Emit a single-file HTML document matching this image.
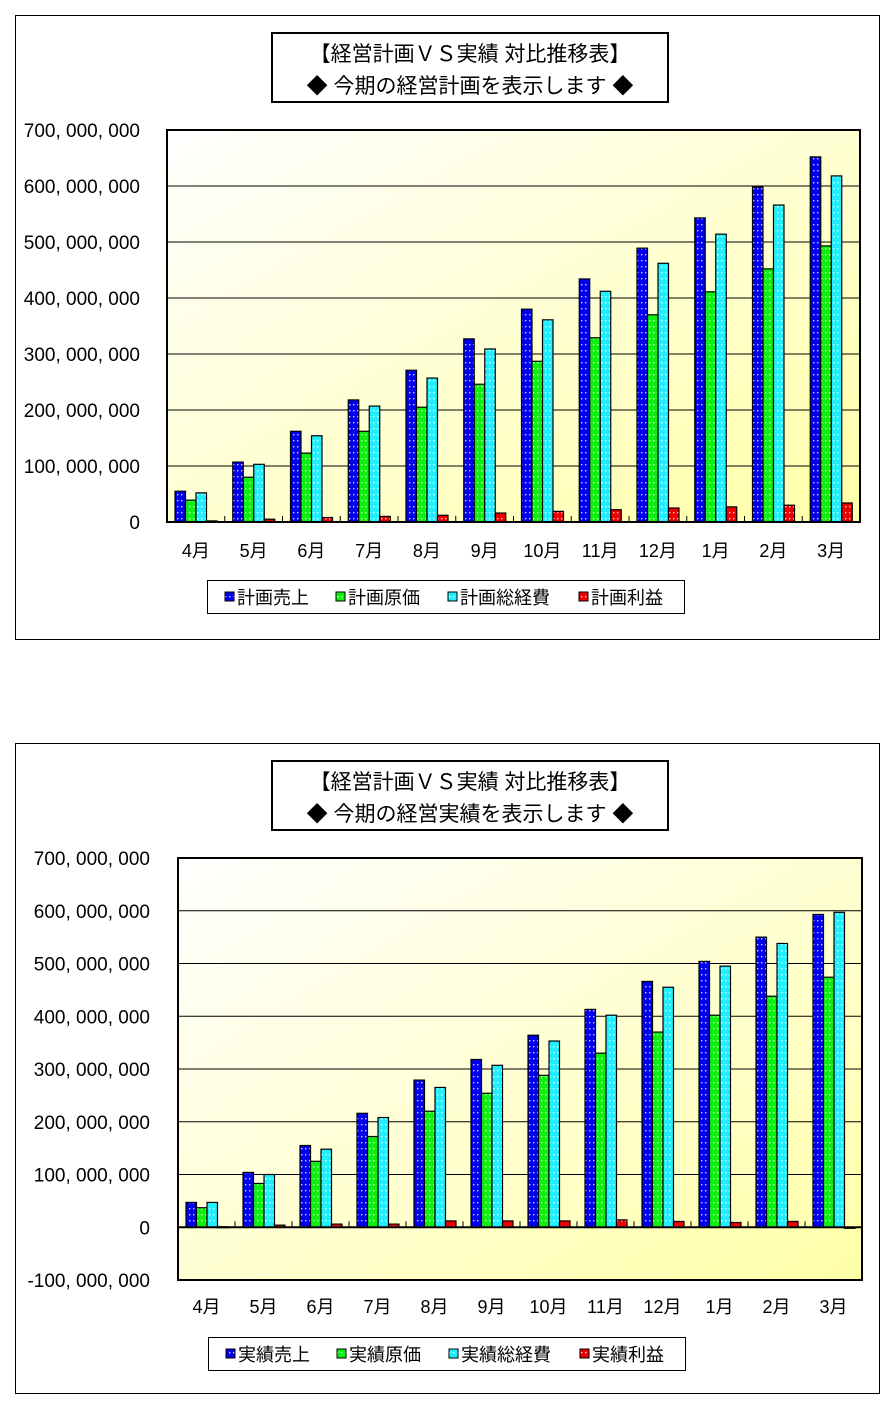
<!DOCTYPE html>
<html><head><meta charset="utf-8"><style>
body{margin:0;background:#fff;width:894px;height:1415px;overflow:hidden}
svg{display:block}
text{font-family:"Liberation Sans","Noto Sans CJK JP",sans-serif;fill:#000}
</style></head><body>
<svg id="s" width="894" height="1415" viewBox="0 0 894 1415">
<defs>
<linearGradient id="bg" x1="0" y1="0" x2="1" y2="1"><stop offset="0" stop-color="#ffffff"/><stop offset="1" stop-color="#ffffa8"/></linearGradient>
<pattern id="p0" width="4" height="6" patternUnits="userSpaceOnUse"><rect width="4" height="6" fill="#0000ee"/><rect x="1" y="2" width="1.4" height="1.4" fill="#ccccff"/></pattern>
<pattern id="p1" width="4" height="6" patternUnits="userSpaceOnUse"><rect width="4" height="6" fill="#11ee11"/><rect x="1" y="2" width="1.4" height="1.4" fill="#ccffcc"/></pattern>
<pattern id="p2" width="4" height="6" patternUnits="userSpaceOnUse"><rect width="4" height="6" fill="#22eeff"/><rect x="1" y="2" width="1.4" height="1.4" fill="#ffffff"/></pattern>
<pattern id="p3" width="4" height="6" patternUnits="userSpaceOnUse"><rect width="4" height="6" fill="#ee0000"/><rect x="1" y="2" width="1.4" height="1.4" fill="#ffcccc"/></pattern>
</defs>
</svg>
<script>
const categories=["4月","5月","6月","7月","8月","9月","10月","11月","12月","1月","2月","3月"];
const planSales=[55,107,162,218,271,327,380,434,489,543,598,652];
const planCost=[39,80,123,162,205,246,287,329,370,411,452,493];
const planExpense=[52,103,154,207,257,309,361,412,462,514,566,618];
const planProfit=[2,5,8,10,12,16,19,22,25,27,30,34];
const actSales=[47,104,155,216,279,318,364,413,466,504,550,593];
const actCost=[37,83,125,172,220,254,288,330,370,402,438,474];
const actExpense=[47,100,148,208,265,307,353,402,455,495,538,597];
const actProfit=[1,4,6,6,12,12,12,14,11,9,11,-2];
const ticks1=[0,100,200,300,400,500,600,700];
const ticks2=[-100,0,100,200,300,400,500,600,700];
const fmt=v=>v===0?"0":(v<0?"-":"")+Math.abs(v)+", 000, 000";
const svg=document.getElementById('s');
const NS="http://www.w3.org/2000/svg";
function mk(tag,attrs,parent){const e=document.createElementNS(NS,tag);for(const k in attrs)e.setAttribute(k,attrs[k]);(parent||svg).appendChild(e);return e;}
function chart(o){
  const g=mk('g',{});
  
  
  const fr=mk('rect',{x:15.5,y:o.top+.5,width:864,height:o.h,fill:'#fff',stroke:'#000','stroke-width':1},g);
  
  
  const tb=mk('g',{},g);
  
  
  mk('rect',{x:272,y:o.top+18,width:396,height:69,fill:'#fff',stroke:'#000','stroke-width':2},tb);
  const t1=mk('text',{x:470,y:o.top+46,'text-anchor':'middle','font-size':21},tb);t1.textContent="【経営計画ＶＳ実績 対比推移表】";
  const t2=mk('text',{x:470,y:o.top+78,'text-anchor':'middle','font-size':21},tb);t2.textContent="◆ "+o.sub+" ◆";
  const L=o.L,R=o.R,T=o.T,B=o.B,mn=o.min,mx=o.max;
  const y=v=>B-(v-mn)/(mx-mn)*(B-T);
  const pa=mk('rect',{x:L,y:T,width:R-L,height:B-T,fill:'url(#bg)',stroke:'none'},g);
  
  
  o.ticks.forEach(v=>{
    if(v!==mn&&v!==mx)mk('line',{x1:L,x2:R,y1:y(v),y2:y(v),stroke:'#000','stroke-width':1},g);
    const tx=mk('text',{x:o.labR,y:y(v)+7,'text-anchor':'end','font-size':19},g);
    
    
    tx.textContent=fmt(v);
  });
  const gw=(R-L)/categories.length,bw=10.5;
  const fills=['url(#p0)','url(#p1)','url(#p2)','url(#p3)'];
  categories.forEach((c,i)=>{
    const x0=L+i*gw+8;
    o.series.forEach((s,j)=>{
      const v=s[i];const ya=y(Math.max(v,0)),yb=y(Math.min(v,0));
      const b=mk('rect',{x:x0+j*bw,y:ya,width:bw,height:Math.max(yb-ya,1),fill:fills[j],stroke:'#000','stroke-width':1.2},g);
      
      
    });
    if(i>0)mk('line',{x1:L+i*gw,x2:L+i*gw,y1:y(0),y2:y(0)-6,stroke:'#000'},g);
    const xl=mk('text',{x:L+i*gw+gw/2,y:o.xlabY,'text-anchor':'middle','font-size':18},g);
    
    
    xl.textContent=c;
  });
  mk('line',{x1:L,x2:R,y1:y(0),y2:y(0),stroke:'#000','stroke-width':2},g);
  mk('rect',{x:L,y:T,width:R-L,height:B-T,fill:'none',stroke:'#000','stroke-width':2},g);
  const lg=mk('g',{},g);
  
  
  mk('rect',{x:o.lgX+.5,y:o.lgY+.5,width:477,height:33,fill:'#fff',stroke:'#000'},lg);
  const lx=[o.lgX+18,o.lgX+129,o.lgX+241,o.lgX+372];
  o.names.forEach((n,j)=>{
    const e=mk('g',{},lg);
    
    
    mk('rect',{x:lx[j],y:o.lgY+12,width:9,height:9,fill:fills[j],stroke:'#000'},e);
    const t=mk('text',{x:lx[j]+12,y:o.lgY+24,'font-size':18},e);t.textContent=n;
  });
}
chart({name:'plan-chart',top:15,h:624,sub:'今期の経営計画を表示します',L:167,R:860,T:130,B:522,min:0,max:700,ticks:ticks1,labR:140,xlabY:557,
  series:[planSales,planCost,planExpense,planProfit],names:['計画売上','計画原価','計画総経費','計画利益'],lgX:207,lgY:580});
chart({name:'actual-chart',top:743,h:650,sub:'今期の経営実績を表示します',L:178,R:862,T:858,B:1280,min:-100,max:700,ticks:ticks2,labR:150,xlabY:1313,
  series:[actSales,actCost,actExpense,actProfit],names:['実績売上','実績原価','実績総経費','実績利益'],lgX:208,lgY:1337});
</script>
</body></html>
